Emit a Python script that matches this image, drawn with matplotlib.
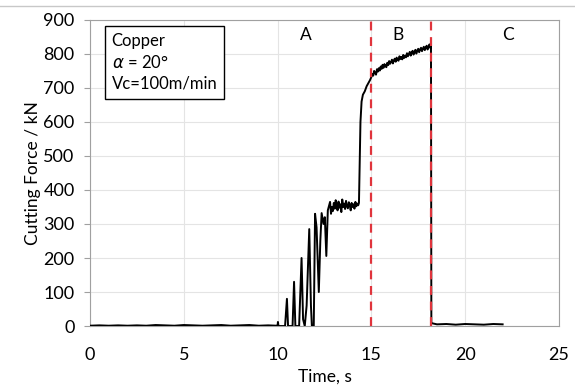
import matplotlib.pyplot as plt
from matplotlib.lines import Line2D

plt.rcParams['font.family'] = ['Lato', 'DejaVu Sans']

# time (s) and cutting force (kN)
time_idle = [0.0, 0.5, 1.0, 1.5, 2.0, 2.5, 3.0, 3.5, 4.0, 4.5, 5.0, 5.5, 6.0,
             6.5, 7.0, 7.5, 8.0, 8.5, 9.0, 9.5, 9.95]
force_idle = [1, 2, 1, 2, 1, 2, 1, 3, 2, 1, 3, 2, 1, 2, 3, 1, 2, 3, 1, 2, 1]

time_entry = [10.0, 10.02, 10.05, 10.4, 10.5, 10.56, 10.8, 10.88, 10.95, 11.15,
              11.28, 11.36, 11.45, 11.55, 11.69, 11.78, 11.83, 11.93, 12.0,
              12.08, 12.2, 12.28, 12.35, 12.45, 12.52, 12.6, 12.68, 12.8, 12.85]
force_entry = [0, 12, 0, 0, 80, 0, 0, 130, 0, 0, 200, 20, 0, 60, 285, 60, 0, 0,
               330, 290, 100, 250, 332, 300, 320, 206, 340, 365, 330]

time_plateau = [12.9, 12.95, 13.0, 13.05, 13.1, 13.15, 13.2, 13.25, 13.3, 13.35,
                13.4, 13.45, 13.5, 13.55, 13.6, 13.65, 13.7, 13.75, 13.8, 13.85,
                13.9, 13.95, 14.0, 14.05, 14.1, 14.15, 14.2, 14.25, 14.3, 14.34]
force_plateau = [350, 338, 362, 345, 370, 352, 340, 366, 348, 358, 335, 372, 350,
                 360, 344, 368, 352, 346, 364, 355, 340, 362, 350, 358, 345, 365,
                 352, 360, 355, 362]

time_rise = [14.36, 14.42, 14.48, 14.55, 14.65, 14.75, 14.85, 14.93]
force_rise = [420, 600, 660, 680, 690, 705, 715, 723]

time_steady = [15.0, 15.05, 15.1, 15.15, 15.2, 15.25, 15.3, 15.35, 15.4, 15.45,
               15.5, 15.55, 15.6, 15.65, 15.7, 15.75, 15.8, 15.85, 15.9, 15.95,
               16.0, 16.05, 16.1, 16.15, 16.2, 16.25, 16.3, 16.35, 16.4, 16.45,
               16.5, 16.55, 16.6, 16.65, 16.7, 16.75, 16.8, 16.85, 16.9, 16.95,
               17.0, 17.05, 17.1, 17.15, 17.2, 17.25, 17.3, 17.35, 17.4, 17.45,
               17.5, 17.55, 17.6, 17.65, 17.7, 17.75, 17.8, 17.85, 17.9, 17.95,
               18.0, 18.05, 18.1, 18.15, 18.18]
force_steady = [732, 741, 736, 750, 744, 739, 755, 748, 758, 751,
                763, 756, 768, 759, 770, 764, 761, 774, 767, 779,
                771, 776, 783, 772, 781, 786, 777, 789, 782, 780,
                793, 785, 791, 784, 797, 788, 795, 790, 802, 793,
                799, 806, 795, 804, 809, 798, 807, 812, 801, 810,
                815, 805, 813, 818, 808, 816, 821, 811, 819, 824,
                813, 822, 828, 817, 826]

time_exit = [18.2, 18.25, 18.5, 19.0, 19.5, 20.0, 20.5, 21.0, 21.5, 22.0]
force_exit = [10, 8, 5, 6, 4, 6, 5, 4, 6, 5]

zone_edges = [15.0, 18.2]
zone_names = ['A', 'B', 'C']
zone_label_x = [11.5, 16.4, 22.3]

t = time_idle + time_entry + time_plateau + time_rise + time_steady + time_exit
f = force_idle + force_entry + force_plateau + force_rise + force_steady + force_exit

fig = plt.figure(figsize=(5.75, 3.9), dpi=100)
ax = fig.add_axes([0.1565, 0.164, 0.8155, 0.785])

ax.plot(t, f, color='black', lw=1.4, zorder=3)
for xe in zone_edges:
    ax.plot([xe, xe], [0, 900], color='#e0343c', lw=1.6, ls=(0, (4, 3)), zorder=4)
for name, xl in zip(zone_names, zone_label_x):
    ax.text(xl, 855, name, fontsize=12.5, ha='center', va='center')

ax.text(1.15, 775, 'Copper\n$\\alpha$ = 20°\nVc=100m/min', fontsize=12,
        va='center', ha='left', linespacing=1.35,
        bbox=dict(boxstyle='square,pad=0.42', fc='white', ec='black', lw=1))

ax.set_xlim(0, 25)
ax.set_ylim(0, 900)
ax.set_xticks([0, 5, 10, 15, 20, 25])
ax.set_yticks(range(0, 901, 100))
ax.grid(True, color='#e4e4e4', lw=0.8)
ax.set_axisbelow(True)
for s in ax.spines.values():
    s.set_color('#a0a0a0')
ax.tick_params(axis='x', length=0, labelsize=13, pad=15)
ax.tick_params(axis='y', length=4, color='#a0a0a0', labelsize=13, pad=7)
ax.set_xlabel('Time, s', fontsize=12.5, labelpad=4)
ax.set_ylabel('Cutting Force / kN', fontsize=12.5, labelpad=2)

fig.add_artist(Line2D([0, 1], [1 - 6 / 390, 1 - 6 / 390], color='#c8c8c8', lw=1))

fig.savefig('out.png', dpi=100)
